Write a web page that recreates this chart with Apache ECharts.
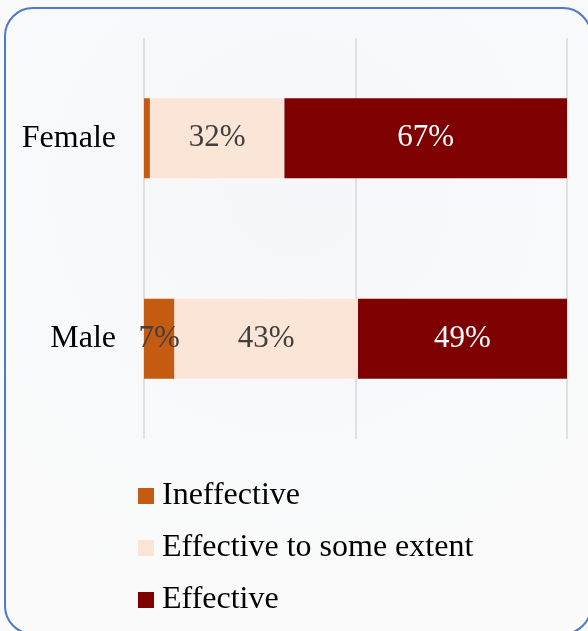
<!DOCTYPE html>
<html>
<head>
<meta charset="utf-8">
<script src="https://cdn.jsdelivr.net/npm/echarts@6/dist/echarts.min.js"></script>
<style>
html,body{margin:0;padding:0;background:#fafafa;}
#c{width:588px;height:631px;}
</style>
</head>
<body>
<div id="c"></div>
<script>
var categories = ['Female', 'Male'];
var seriesNames = ['Ineffective', 'Effective to some extent', 'Effective'];
var ineffective = [1.4, 7.2];
var someExtent = [31.8, 43.4];
var effective = [66.8, 49.4];
var xTicks = [0, 50, 100];

var colors = ['#C55A11', '#FBE5D6', '#7F0000'];
var labelColors = ['#404040', '#404040', '#ffffff'];
var values = [ineffective, someExtent, effective];
var FONT = '"Liberation Serif", "Times New Roman", serif';

var chart = echarts.init(document.getElementById('c'));
var series = seriesNames.map(function (name, i) {
  return {
    name: name,
    type: 'bar',
    stack: 'total',
    barWidth: 80,
    itemStyle: { color: colors[i] },
    label: {
      show: true,
      position: 'inside',
      color: labelColors[i],
      fontFamily: FONT,
      fontSize: 31,
      formatter: function (p) { return Math.round(p.value) + '%'; }
    },
    data: values[i].map(function (v) {
      return v < 3 ? { value: v, label: { show: false } } : v;
    })
  };
});

chart.setOption({
  backgroundColor: {
    type: 'radial', x: 0.5, y: 0.3, r: 0.8,
    colorStops: [{ offset: 0, color: '#f5f7fa' }, { offset: 1, color: '#fbfbfb' }]
  },
  animation: false,
  grid: { left: 144, right: 21, top: 38, bottom: 192 },
  xAxis: {
    type: 'value', min: 0, max: 100, interval: 50,
    axisLabel: { show: false }, axisLine: { show: false }, axisTick: { show: false },
    splitLine: { show: true, lineStyle: { color: '#d9d9d9', width: 1.5 } }
  },
  yAxis: {
    type: 'category', data: categories, inverse: true,
    axisLine: { show: false }, axisTick: { show: false },
    axisLabel: { fontFamily: FONT, fontSize: 32, color: '#000', margin: 28 }
  },
  legend: {
    orient: 'vertical', left: 133, top: 473,
    icon: 'rect', itemWidth: 16, itemHeight: 16, itemGap: 16,
    textStyle: { fontFamily: FONT, fontSize: 32, color: '#000', lineHeight: 36, padding: [0, 0, 0, 3] },
    data: seriesNames
  },
  graphic: [{
    type: 'rect',
    shape: { x: 5, y: 8, width: 586, height: 626, r: 28 },
    style: { fill: 'none', stroke: '#4f78cf', lineWidth: 2 },
    silent: true
  }],
  series: series
});
</script>
</body>
</html>
